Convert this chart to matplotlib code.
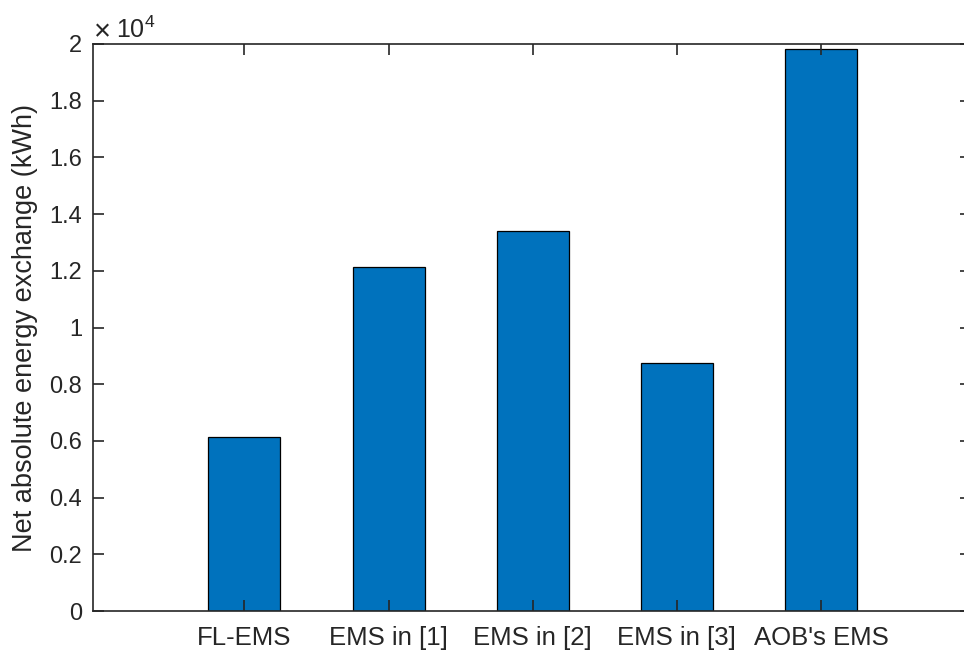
import matplotlib
matplotlib.use("Agg")
import matplotlib.pyplot as plt
import numpy as np

categories = ["FL-EMS", "EMS in [1]", "EMS in [2]", "EMS in [3]", "AOB's EMS"]
energy_kwh = np.array([6130, 12120, 13400, 8760, 19830])

plt.rcParams['font.family'] = ['Liberation Sans', 'DejaVu Sans']
plt.rcParams['mathtext.fontset'] = 'custom'
plt.rcParams['mathtext.rm'] = 'Liberation Sans'

axis_col = '#262626'

fig = plt.figure(figsize=(9.64, 6.5), dpi=100)
# axes box runs a little past the right edge of the picture, like the cropped original
ax_w = (971 - 93) / 964
ax = fig.add_axes([93 / 964, 39 / 650, ax_w, (611 - 44) / 650])

x = np.arange(1, len(categories) + 1)
ax.bar(x, energy_kwh / 1e4, width=0.5, color='#0072BD', edgecolor='black', linewidth=0.9)

ax.set_xlim(-0.05, 6.04)
ax.set_ylim(0, 2)
ax.set_xticks(x)
ax.set_xticklabels(categories)
ax.set_yticks(np.arange(0, 2.01, 0.2))
ax.set_yticklabels(['0', '0.2', '0.4', '0.6', '0.8', '1', '1.2', '1.4', '1.6', '1.8', '2'])

ax.tick_params(direction='in', top=True, right=True, length=8, width=1.2,
               colors=axis_col, pad=8)
ax.tick_params(axis='y', labelsize=17)
ax.tick_params(axis='x', labelsize=18.5, pad=11)
for s in ax.spines.values():
    s.set_color(axis_col)
    s.set_linewidth(1.2)

ax.set_ylabel('Net absolute energy exchange (kWh)', fontsize=19.5, color=axis_col)
ax.yaxis.set_label_coords((38 - 93) / 964 / ax_w, 0.5)
# MATLAB-style exponent above the y axis
ax.text(0.0, 1.0, r'$\times$', transform=ax.transAxes,
        fontsize=21, color=axis_col, ha='left', va='bottom')
ax.text(0.026, 1.002, r'$\mathregular{10^{4}}$', transform=ax.transAxes,
        fontsize=18, color=axis_col, ha='left', va='bottom')

fig.savefig('out.png', dpi=100)
